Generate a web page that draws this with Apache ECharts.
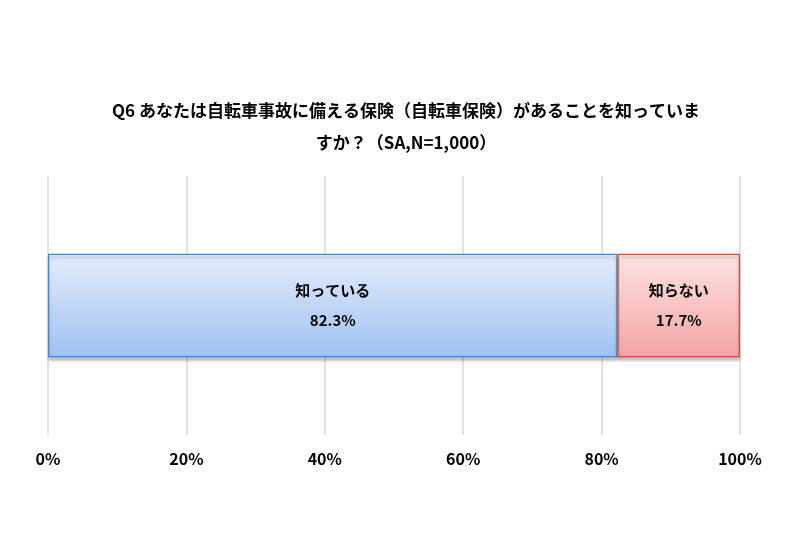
<!DOCTYPE html>
<html><head><meta charset="utf-8">
<script src="https://cdn.jsdelivr.net/npm/echarts@6/dist/echarts.min.js"></script>
<style>html,body{margin:0;background:#fff}#c{width:800px;height:533px}</style>
</head><body><div id="c"></div>
<script>
const titleLines = ['Q6 あなたは自転車事故に備える保険（自転車保険）があることを知っていま', 'すか？（SA,N=1,000）'];
const names = ['知っている', '知らない'];
const values = [82.3, 17.7];
const tops = ['#e3edfc', '#fde3e3'];
const bottoms = ['#9fc0f3', '#f5a3a3'];
const borders = ['#4f81bd', '#c0504d'];

const chart = echarts.init(document.getElementById('c'));
const font = '"Noto Sans CJK JP", sans-serif';
chart.setOption({
  animation: false,
  title: {
    text: titleLines.join('\n'), left: 401, top: 90, textAlign: 'center',
    textStyle: {fontFamily: font, fontSize: 17, fontWeight: 'bold', color: '#000', lineHeight: 32}
  },
  grid: {left: 48, right: 60, top: 176, bottom: 98},
  xAxis: {
    type: 'value', min: 0, max: 100, interval: 20,
    axisLabel: {formatter: '{value}%', fontFamily: font, fontSize: 16, fontWeight: 'bold', color: '#000', margin: 16},
    axisLine: {show: false}, axisTick: {show: false},
    splitLine: {lineStyle: {color: '#d9d9d9', width: 1.5}}
  },
  yAxis: {type: 'category', data: [''], show: false},
  series: names.map((n, i) => ({
    name: n, type: 'bar', stack: 'a', barWidth: '40%',
    data: [values[i]],
    itemStyle: {
      color: new echarts.graphic.LinearGradient(0, 0, 0, 1, [{offset: 0, color: tops[i]}, {offset: 1, color: bottoms[i]}]),
      borderColor: borders[i], borderWidth: 1.2,
      shadowColor: 'rgba(0,0,0,0.25)', shadowOffsetY: 3, shadowBlur: 3
    },
    label: {
      show: true, position: 'inside', fontFamily: font, fontSize: 15, fontWeight: 'bold', color: '#000',
      lineHeight: 30, formatter: p => n + '\n' + p.value.toFixed(1) + '%'
    }
  }))
});
</script></body></html>
